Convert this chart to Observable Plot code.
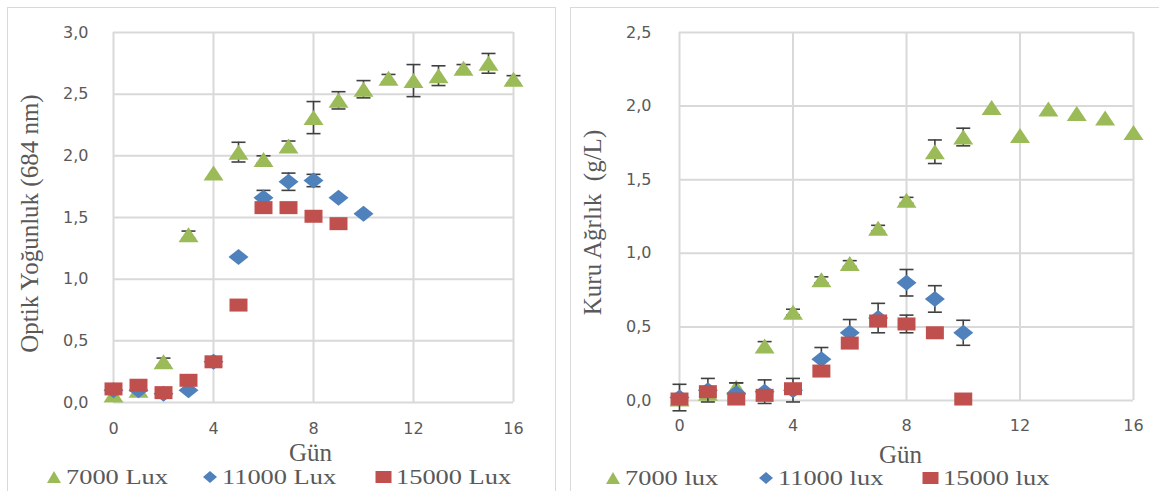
<!DOCTYPE html>
<html>
<head>
<meta charset="utf-8">
<script src="https://cdn.jsdelivr.net/npm/d3@7"></script>
<script src="https://cdn.jsdelivr.net/npm/@observablehq/plot@0.6"></script>
<style>
  html, body { margin: 0; padding: 0; background: #fff; width: 1159px; height: 491px; overflow: hidden; }
  .panel { position: absolute; border: 1.5px solid #d9d9d9; box-sizing: border-box; }
  .chart { position: absolute; }
  .legend { position: absolute; height: 24px; }
  .item { position: absolute; top: 0; height: 24px; display: flex; align-items: center; }
  .item span { font-family: "Liberation Serif", serif; font-size: 22px; color: #595959; display: inline-block; transform: scaleX(1.2); transform-origin: left center; white-space: nowrap; margin-left: 4px; }
</style>
</head>
<body>
<div class="panel" style="left:7px; top:7px; width:549px; height:500px;"></div>
<div class="panel" style="left:570px; top:7px; width:600px; height:500px;"></div>
<div id="left" class="chart" style="left:7px; top:7px;"></div>
<div id="right" class="chart" style="left:570px; top:7px;"></div>
<div id="legL" class="legend" style="left:0px; top:465px; width:560px;"></div>
<div id="legR" class="legend" style="left:560px; top:466px; width:599px;"></div>
<script>
// ---------- data ----------
const days = [0,1,2,3,4,5,6,7,8,9,10,11,12,13,14,15,16];
const xTicks = [0, 4, 8, 12, 16];
const yTicksOD = [0, 0.5, 1.0, 1.5, 2.0, 2.5, 3.0];
const yTicksDW = [0, 0.5, 1.0, 1.5, 2.0, 2.5];

// Optik Yoğunluk (684 nm)
const od7000    = [0.06, 0.10, 0.33, 1.36, 1.86, 2.03, 1.97, 2.08, 2.31, 2.45, 2.54, 2.63, 2.61, 2.65, 2.71, 2.75, 2.62];
const od7000Err = [0, 0, 0.03, 0.03, 0, 0.08, 0.03, 0.04, 0.13, 0.07, 0.07, 0.03, 0.13, 0.08, 0.03, 0.08, 0.03];
const od11000    = [0.10, 0.10, 0.07, 0.10, 0.33, 1.18, 1.66, 1.79, 1.80, 1.66, 1.53];
const od11000Err = [0, 0, 0, 0, 0, 0, 0.06, 0.07, 0.05, 0, 0];
const od15000    = [0.11, 0.14, 0.08, 0.18, 0.33, 0.79, 1.58, 1.58, 1.51, 1.45];
const od15000Err = [0, 0, 0, 0, 0, 0, 0, 0, 0, 0];

// Kuru Ağırlık (g/L)
const dw7000    = [0.01, 0.05, 0.09, 0.37, 0.60, 0.82, 0.93, 1.17, 1.36, 1.69, 1.79, 1.99, 1.80, 1.98, 1.95, 1.92, 1.82];
const dw7000Err = [0, 0, 0.03, 0.03, 0.02, 0.02, 0.02, 0.02, 0.02, 0.08, 0.06, 0, 0, 0, 0, 0, 0];
const dw11000    = [0.02, 0.07, 0.05, 0.06, 0.07, 0.28, 0.46, 0.56, 0.80, 0.69, 0.46];
const dw11000Err = [0.09, 0.08, 0.07, 0.08, 0.08, 0.08, 0.09, 0.10, 0.09, 0.09, 0.085];
const dw15000    = [0.01, 0.06, 0.01, 0.035, 0.08, 0.20, 0.39, 0.54, 0.52, 0.46, 0.01];
const dw15000Err = [0, 0, 0, 0, 0, 0, 0, 0, 0.06, 0, 0];

const labelsL = ["7000 Lux", "11000 Lux", "15000 Lux"];
const labelsR = ["7000 lux", "11000 lux", "15000 lux"];
const colors = ["#9bbb59", "#4f81bd", "#c0504d"];

// ---------- symbols ----------
const triSym = {draw(c) { c.moveTo(0, -7.5); c.lineTo(10, 7.5); c.lineTo(-10, 7.5); c.closePath(); }};
const diaSym = {draw(c) { c.moveTo(0, -8); c.lineTo(10, 0); c.lineTo(0, 8); c.lineTo(-10, 0); c.closePath(); }};
const sqSym  = {draw(c) { c.moveTo(-9, -6.5); c.lineTo(9, -6.5); c.lineTo(9, 6.5); c.lineTo(-9, 6.5); c.closePath(); }};
const capSym = {draw(c) { c.moveTo(-7, 0); c.lineTo(7, 0); }};
const symbols = [triSym, diaSym, sqSym];

function rows(vals, errs) { return vals.map((v, i) => ({day: days[i], v, e: errs[i]})); }

function seriesMarks(data, sym, color) {
  const eb = data.filter(d => d.e > 0);
  return [
    Plot.ruleX(eb, {x: "day", y1: d => d.v - d.e, y2: d => d.v + d.e, stroke: "#404040", strokeWidth: 1.6}),
    Plot.dot(eb, {x: "day", y: d => d.v + d.e, symbol: capSym, r: 5, stroke: "#404040", strokeWidth: 1.6, fill: "none"}),
    Plot.dot(eb, {x: "day", y: d => d.v - d.e, symbol: capSym, r: 5, stroke: "#404040", strokeWidth: 1.6, fill: "none"}),
    Plot.dot(data, {x: "day", y: "v", symbol: sym, r: 5, fill: color, stroke: "none"})
  ];
}

const fmt = d => d.toFixed(1).replace(".", ",");

function chart({width, height, mL, mR, mT, mB, yMax, yTicks, series, yTitle, xPadX, yPad, titleDx, xTitleDy, xTitleDx}) {
  return Plot.plot({
    width, height,
    marginLeft: mL, marginRight: mR, marginTop: mT, marginBottom: mB,
    style: {fontFamily: "'DejaVu Sans', sans-serif", fontSize: "16px", color: "#595959", background: "transparent", overflow: "visible"},
    x: {domain: [0, 16], ticks: xTicks, tickSize: 0, tickPadding: xPadX, label: null},
    y: {domain: [0, yMax], ticks: yTicks, tickSize: 0, tickPadding: yPad, tickFormat: fmt, label: null},
    marks: [
      Plot.ruleX(xTicks, {stroke: "#d9d9d9", strokeWidth: 2}),
      Plot.ruleY(yTicks, {stroke: "#d9d9d9", strokeWidth: 2}),
      ...series.flatMap((s, i) => seriesMarks(s, symbols[i], colors[i])),
      Plot.text([yTitle], {frameAnchor: "left", textAnchor: "middle", lineAnchor: "middle", rotate: -90, dx: titleDx, dy: 6, fontFamily: "'Liberation Serif', serif", fontSize: 25, fill: "#595959"}),
      Plot.text(["Gün"], {frameAnchor: "bottom", textAnchor: "middle", lineAnchor: "middle", dy: xTitleDy, dx: xTitleDx, fontFamily: "'Liberation Serif', serif", fontSize: 25, fill: "#595959"})
    ]
  });
}

document.getElementById("left").append(chart({
  width: 548, height: 458, mL: 106, mR: 42, mT: 25, mB: 63,
  yMax: 3, yTicks: yTicksOD,
  series: [rows(od7000, od7000Err), rows(od11000, od11000Err), rows(od15000, od15000Err)],
  yTitle: "Optik Yoğunluk (684 nm)", xPadX: 20, yPad: 25, titleDx: -84, xTitleDy: 50, xTitleDx: -3
}));

document.getElementById("right").append(chart({
  width: 589, height: 458, mL: 109, mR: 26, mT: 25, mB: 65,
  yMax: 2.5, yTicks: yTicksDW,
  series: [rows(dw7000, dw7000Err), rows(dw11000, dw11000Err), rows(dw15000, dw15000Err)],
  yTitle: "Kuru Ağrlık  (g/L)", xPadX: 19, yPad: 28, titleDx: -87, xTitleDy: 54, xTitleDx: -6
}));

// ---------- legends ----------
const legShapes = [
  '<svg width="16" height="14"><path d="M8,1L15,13L1,13Z" fill="#9bbb59"/></svg>',
  '<svg width="16" height="14"><path d="M8,1L15,7L8,13L1,7Z" fill="#4f81bd"/></svg>',
  '<svg width="17" height="14"><rect x="0.5" y="1" width="16" height="12" fill="#c0504d"/></svg>'
];
function legend(el, labels, xs) {
  labels.forEach((lab, i) => {
    const d = document.createElement("div");
    d.className = "item";
    d.style.left = xs[i] + "px";
    d.innerHTML = legShapes[i] + "<span>" + lab + "</span>";
    el.append(d);
  });
}
legend(document.getElementById("legL"), labelsL, [46, 202, 375]);
legend(document.getElementById("legR"), labelsR, [45, 198, 362]);
</script>
</body>
</html>
